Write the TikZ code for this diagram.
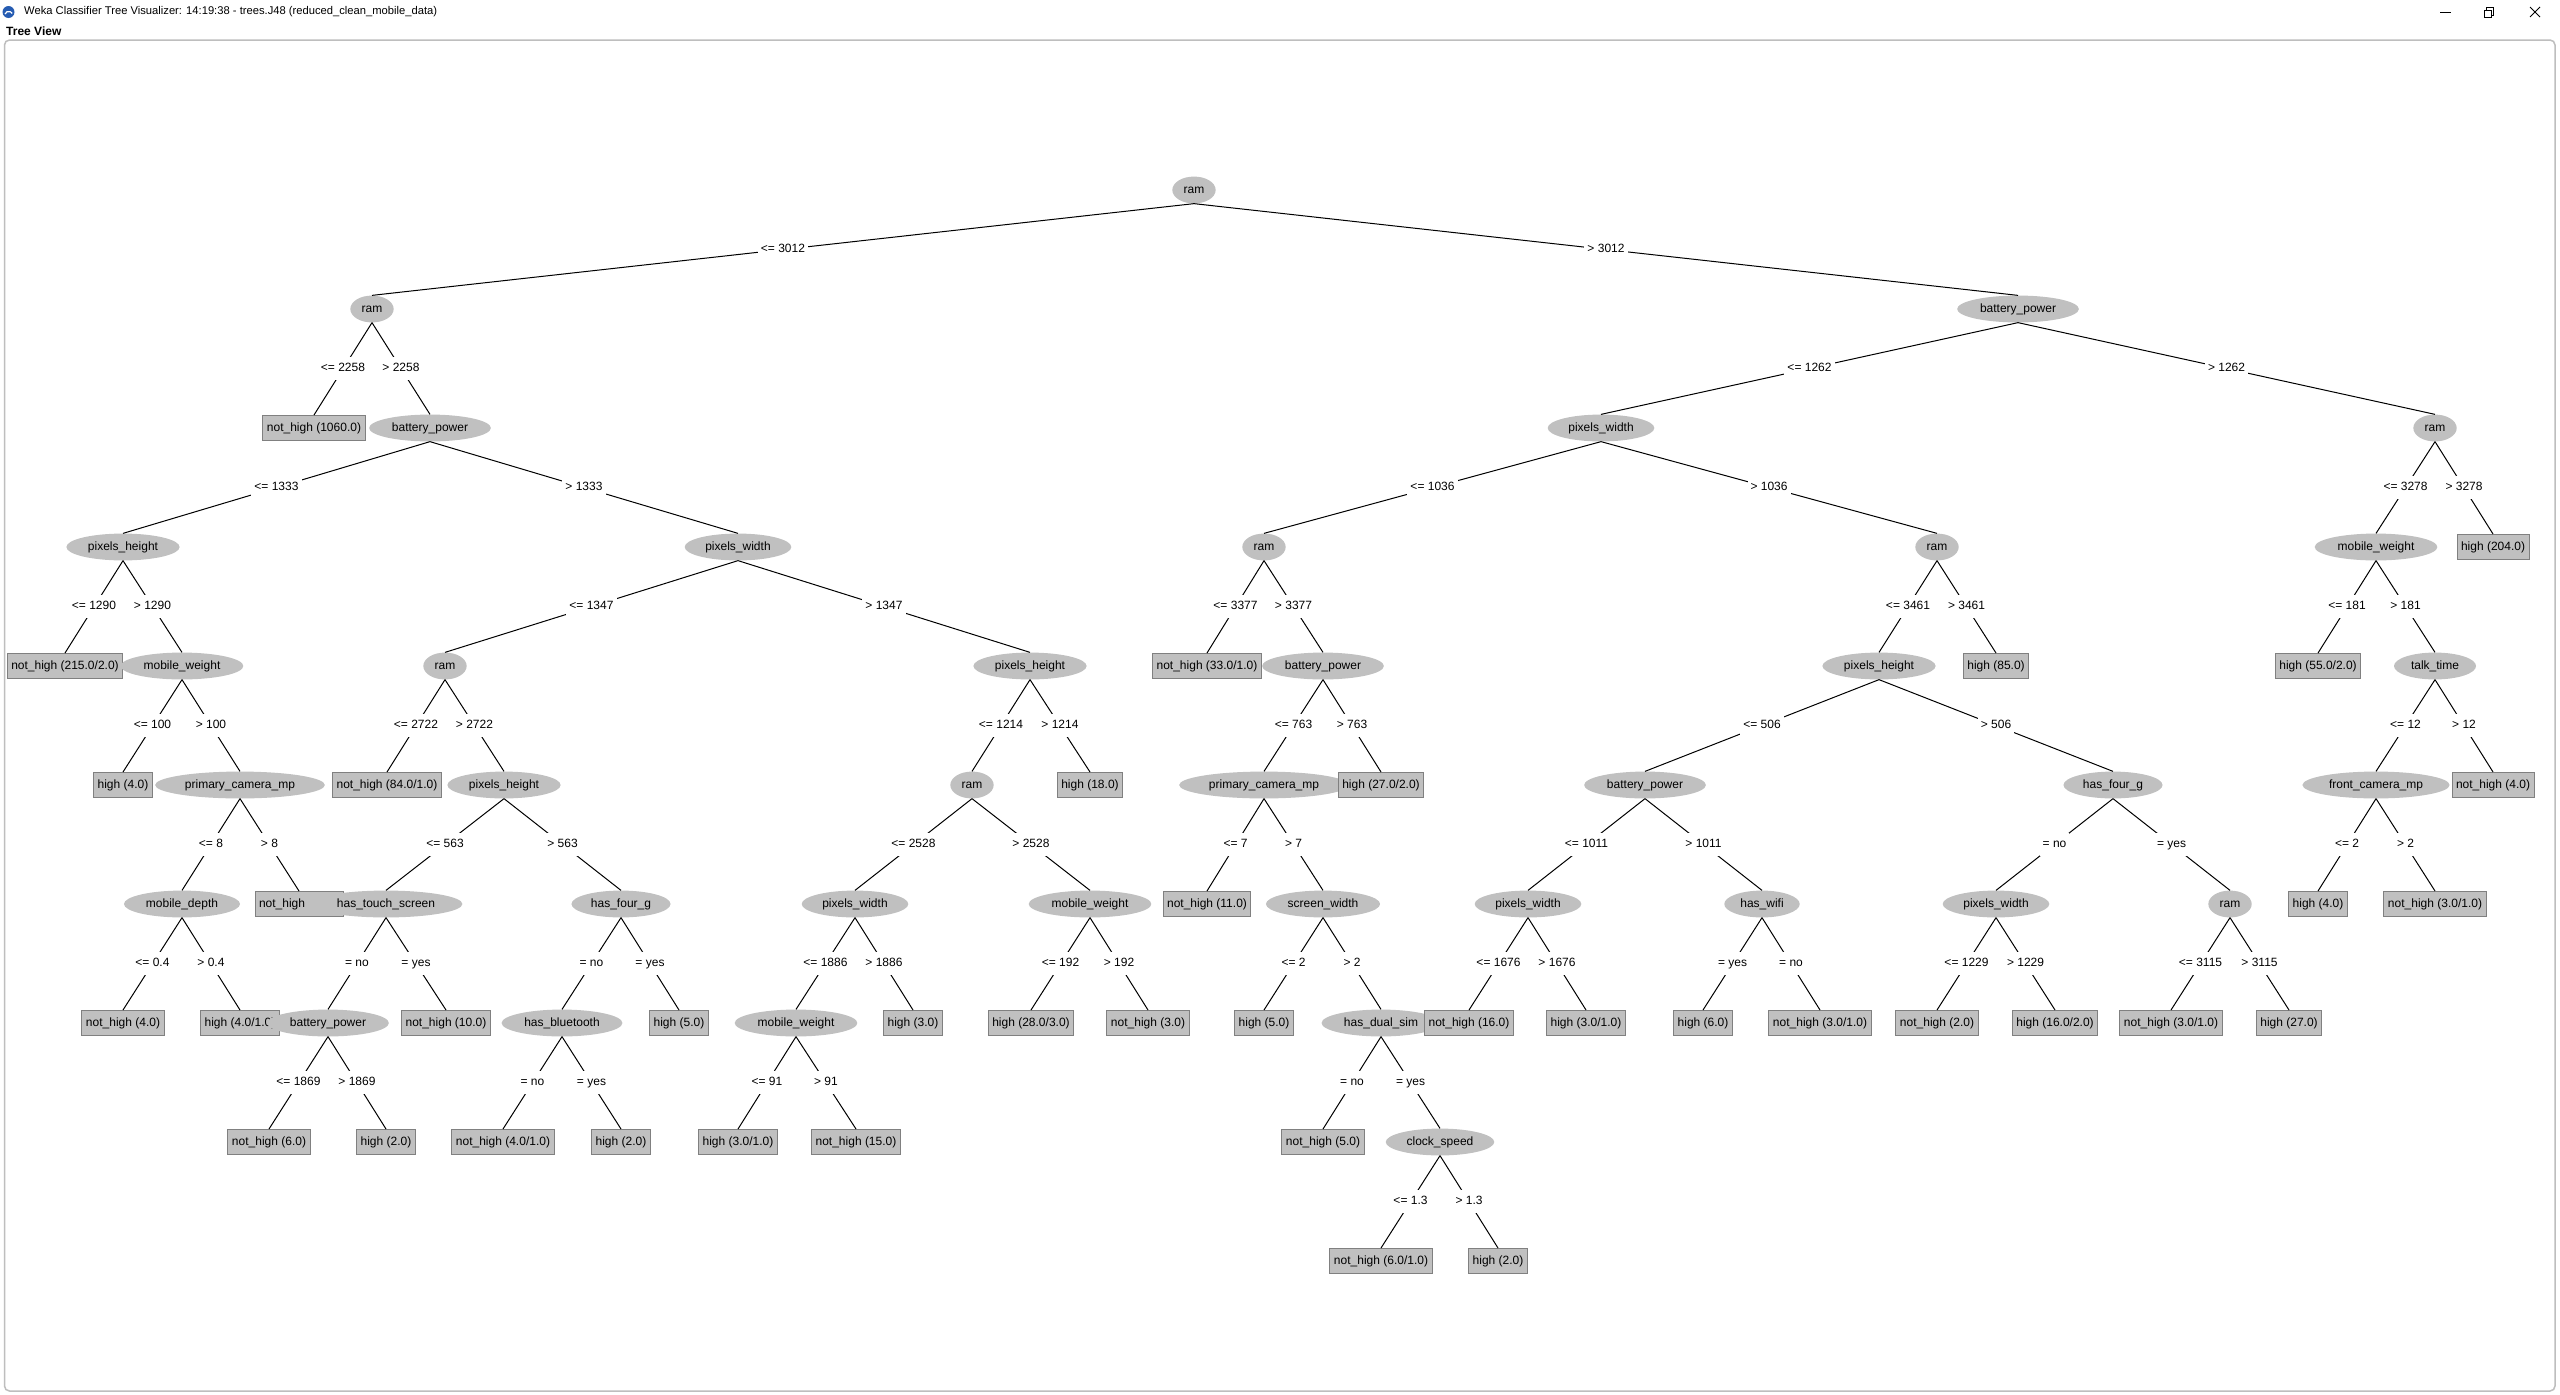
\documentclass[tikz,border=0pt]{standalone}
\usepackage{fontspec}
\setmainfont{Liberation Sans}
\usetikzlibrary{shapes.geometric}

\definecolor{nodegray}{RGB}{192,192,192}
\definecolor{boxedge}{RGB}{128,128,128}
\definecolor{panelline}{RGB}{190,190,190}
\definecolor{iconblue}{RGB}{38,92,178}
\newcommand{\treefont}{\fontsize{12}{14}\selectfont}

\tikzset{
  attr/.style={ellipse, fill=nodegray, inner xsep=5pt, inner ysep=3.5pt,
               text height=9pt, text depth=3pt, font=\treefont},
  leaf/.style={rectangle, fill=nodegray, draw=boxedge, line width=1pt,
               inner xsep=4pt, inner ysep=6.5pt, text height=9pt, text depth=3pt,
               font=\treefont},
  lbl/.style={fill=white, inner xsep=3pt, inner ysep=5.5pt,
              text height=9pt, text depth=3pt, font=\treefont},
  branch/.style={line width=1pt, black},
  chrome/.style={line width=0.9pt, black},
}

\begin{document}
\begin{tikzpicture}[x=1pt, y=-1pt]
\useasboundingbox (0,0) rectangle (2560,1395);
\fill[white] (0,0) rectangle (2560,1395);

% window title bar
\fill[iconblue] (8.5,12) circle (6);
\draw[white, line width=1.2pt] (5,14) arc (200:330:4);
\node[anchor=west, inner sep=0, font=\fontsize{11.2}{13}\selectfont] (title) at (24,11.5)
  {Weka Classifier Tree Visualizer: 14:19:38 - trees.J48 (reduced\_clean\_mobile\_data)};
\draw[chrome] (2440,12) -- (2451,12);
\draw[chrome] (2484,10) rectangle (2491,17);
\draw[chrome] (2486,10) -- (2486,7.5) -- (2493.5,7.5) -- (2493.5,15) -- (2491,15);
\draw[chrome] (2530,7) -- (2540,17);
\draw[chrome] (2530,17) -- (2540,7);
\node[anchor=west, inner sep=0, font=\fontsize{12}{14}\selectfont\bfseries] (tv) at (6,31) {Tree View};
\draw[panelline, line width=1.5pt, rounded corners=5pt] (4.5,40) rectangle (2555,1391);

% nodes, in preorder
\node[attr] (n0) at (1194,190) {ram};
\node[attr] (n1) at (372,309) {ram};
\node[leaf] (n2) at (314,428) {not\_high (1060.0)};
\node[attr] (n3) at (430,428) {battery\_power};
\node[attr] (n4) at (123,547) {pixels\_height};
\node[leaf] (n5) at (65,666) {not\_high (215.0/2.0)};
\node[attr] (n6) at (182,666) {mobile\_weight};
\node[leaf] (n7) at (123,785) {high (4.0)};
\node[attr] (n8) at (240,785) {primary\_camera\_mp};
\node[attr] (n9) at (182,904) {mobile\_depth};
\node[leaf] (n10) at (123,1023) {not\_high (4.0)};
\node[leaf] (n11) at (240,1023) {high (4.0/1.0)};
\node[leaf, text width=80pt, align=left] (n12) at (299,904) {not\_high};
\node[attr] (n13) at (738,547) {pixels\_width};
\node[attr] (n14) at (445,666) {ram};
\node[leaf] (n15) at (387,785) {not\_high (84.0/1.0)};
\node[attr] (n16) at (504,785) {pixels\_height};
\node[attr] (n17) at (386,904) {has\_touch\_screen};
\node[attr] (n18) at (328,1023) {battery\_power};
\node[leaf] (n19) at (269,1142) {not\_high (6.0)};
\node[leaf] (n20) at (386,1142) {high (2.0)};
\node[leaf] (n21) at (446,1023) {not\_high (10.0)};
\node[attr] (n22) at (621,904) {has\_four\_g};
\node[attr] (n23) at (562,1023) {has\_bluetooth};
\node[leaf] (n24) at (503,1142) {not\_high (4.0/1.0)};
\node[leaf] (n25) at (621,1142) {high (2.0)};
\node[leaf] (n26) at (679,1023) {high (5.0)};
\node[attr] (n27) at (1030,666) {pixels\_height};
\node[attr] (n28) at (972,785) {ram};
\node[attr] (n29) at (855,904) {pixels\_width};
\node[attr] (n30) at (796,1023) {mobile\_weight};
\node[leaf] (n31) at (738,1142) {high (3.0/1.0)};
\node[leaf] (n32) at (856,1142) {not\_high (15.0)};
\node[leaf] (n33) at (913,1023) {high (3.0)};
\node[attr] (n34) at (1090,904) {mobile\_weight};
\node[leaf] (n35) at (1031,1023) {high (28.0/3.0)};
\node[leaf] (n36) at (1148,1023) {not\_high (3.0)};
\node[leaf] (n37) at (1090,785) {high (18.0)};
\node[attr] (n38) at (2018,309) {battery\_power};
\node[attr] (n39) at (1601,428) {pixels\_width};
\node[attr] (n40) at (1264,547) {ram};
\node[leaf] (n41) at (1207,666) {not\_high (33.0/1.0)};
\node[attr] (n42) at (1323,666) {battery\_power};
\node[attr] (n43) at (1264,785) {primary\_camera\_mp};
\node[leaf] (n44) at (1207,904) {not\_high (11.0)};
\node[attr] (n45) at (1323,904) {screen\_width};
\node[leaf] (n46) at (1264,1023) {high (5.0)};
\node[attr] (n47) at (1381,1023) {has\_dual\_sim};
\node[leaf] (n48) at (1323,1142) {not\_high (5.0)};
\node[attr] (n49) at (1440,1142) {clock\_speed};
\node[leaf] (n50) at (1381,1261) {not\_high (6.0/1.0)};
\node[leaf] (n51) at (1498,1261) {high (2.0)};
\node[leaf] (n52) at (1381,785) {high (27.0/2.0)};
\node[attr] (n53) at (1937,547) {ram};
\node[attr] (n54) at (1879,666) {pixels\_height};
\node[attr] (n55) at (1645,785) {battery\_power};
\node[attr] (n56) at (1528,904) {pixels\_width};
\node[leaf] (n57) at (1469,1023) {not\_high (16.0)};
\node[leaf] (n58) at (1586,1023) {high (3.0/1.0)};
\node[attr] (n59) at (1762,904) {has\_wifi};
\node[leaf] (n60) at (1703,1023) {high (6.0)};
\node[leaf] (n61) at (1820,1023) {not\_high (3.0/1.0)};
\node[attr] (n62) at (2113,785) {has\_four\_g};
\node[attr] (n63) at (1996,904) {pixels\_width};
\node[leaf] (n64) at (1937,1023) {not\_high (2.0)};
\node[leaf] (n65) at (2055,1023) {high (16.0/2.0)};
\node[attr] (n66) at (2230,904) {ram};
\node[leaf] (n67) at (2171,1023) {not\_high (3.0/1.0)};
\node[leaf] (n68) at (2289,1023) {high (27.0)};
\node[leaf] (n69) at (1996,666) {high (85.0)};
\node[attr] (n70) at (2435,428) {ram};
\node[attr] (n71) at (2376,547) {mobile\_weight};
\node[leaf] (n72) at (2318,666) {high (55.0/2.0)};
\node[attr] (n73) at (2435,666) {talk\_time};
\node[attr] (n74) at (2376,785) {front\_camera\_mp};
\node[leaf] (n75) at (2318,904) {high (4.0)};
\node[leaf] (n76) at (2435,904) {not\_high (3.0/1.0)};
\node[leaf] (n77) at (2493,785) {not\_high (4.0)};
\node[leaf] (n78) at (2493,547) {high (204.0)};

% branches with their split conditions
\foreach \p/\c/\t in {
  n0/n1/{<= 3012}, n0/n38/{> 3012},
  n1/n2/{<= 2258}, n1/n3/{> 2258},
  n3/n4/{<= 1333}, n3/n13/{> 1333},
  n4/n5/{<= 1290}, n4/n6/{> 1290},
  n6/n7/{<= 100}, n6/n8/{> 100},
  n8/n9/{<= 8}, n8/n12/{> 8},
  n9/n10/{<= 0.4}, n9/n11/{> 0.4},
  n13/n14/{<= 1347}, n13/n27/{> 1347},
  n14/n15/{<= 2722}, n14/n16/{> 2722},
  n16/n17/{<= 563}, n16/n22/{> 563},
  n17/n18/{= no}, n17/n21/{= yes},
  n18/n19/{<= 1869}, n18/n20/{> 1869},
  n22/n23/{= no}, n22/n26/{= yes},
  n23/n24/{= no}, n23/n25/{= yes},
  n27/n28/{<= 1214}, n27/n37/{> 1214},
  n28/n29/{<= 2528}, n28/n34/{> 2528},
  n29/n30/{<= 1886}, n29/n33/{> 1886},
  n30/n31/{<= 91}, n30/n32/{> 91},
  n34/n35/{<= 192}, n34/n36/{> 192},
  n38/n39/{<= 1262}, n38/n70/{> 1262},
  n39/n40/{<= 1036}, n39/n53/{> 1036},
  n40/n41/{<= 3377}, n40/n42/{> 3377},
  n42/n43/{<= 763}, n42/n52/{> 763},
  n43/n44/{<= 7}, n43/n45/{> 7},
  n45/n46/{<= 2}, n45/n47/{> 2},
  n47/n48/{= no}, n47/n49/{= yes},
  n49/n50/{<= 1.3}, n49/n51/{> 1.3},
  n53/n54/{<= 3461}, n53/n69/{> 3461},
  n54/n55/{<= 506}, n54/n62/{> 506},
  n55/n56/{<= 1011}, n55/n59/{> 1011},
  n56/n57/{<= 1676}, n56/n58/{> 1676},
  n59/n60/{= yes}, n59/n61/{= no},
  n62/n63/{= no}, n62/n66/{= yes},
  n63/n64/{<= 1229}, n63/n65/{> 1229},
  n66/n67/{<= 3115}, n66/n68/{> 3115},
  n70/n71/{<= 3278}, n70/n78/{> 3278},
  n71/n72/{<= 181}, n71/n73/{> 181},
  n73/n74/{<= 12}, n73/n77/{> 12},
  n74/n75/{<= 2}, n74/n76/{> 2}}
  \draw[branch] (\p.south) -- node[lbl] {\t} (\c.north);
\end{tikzpicture}
\end{document}
